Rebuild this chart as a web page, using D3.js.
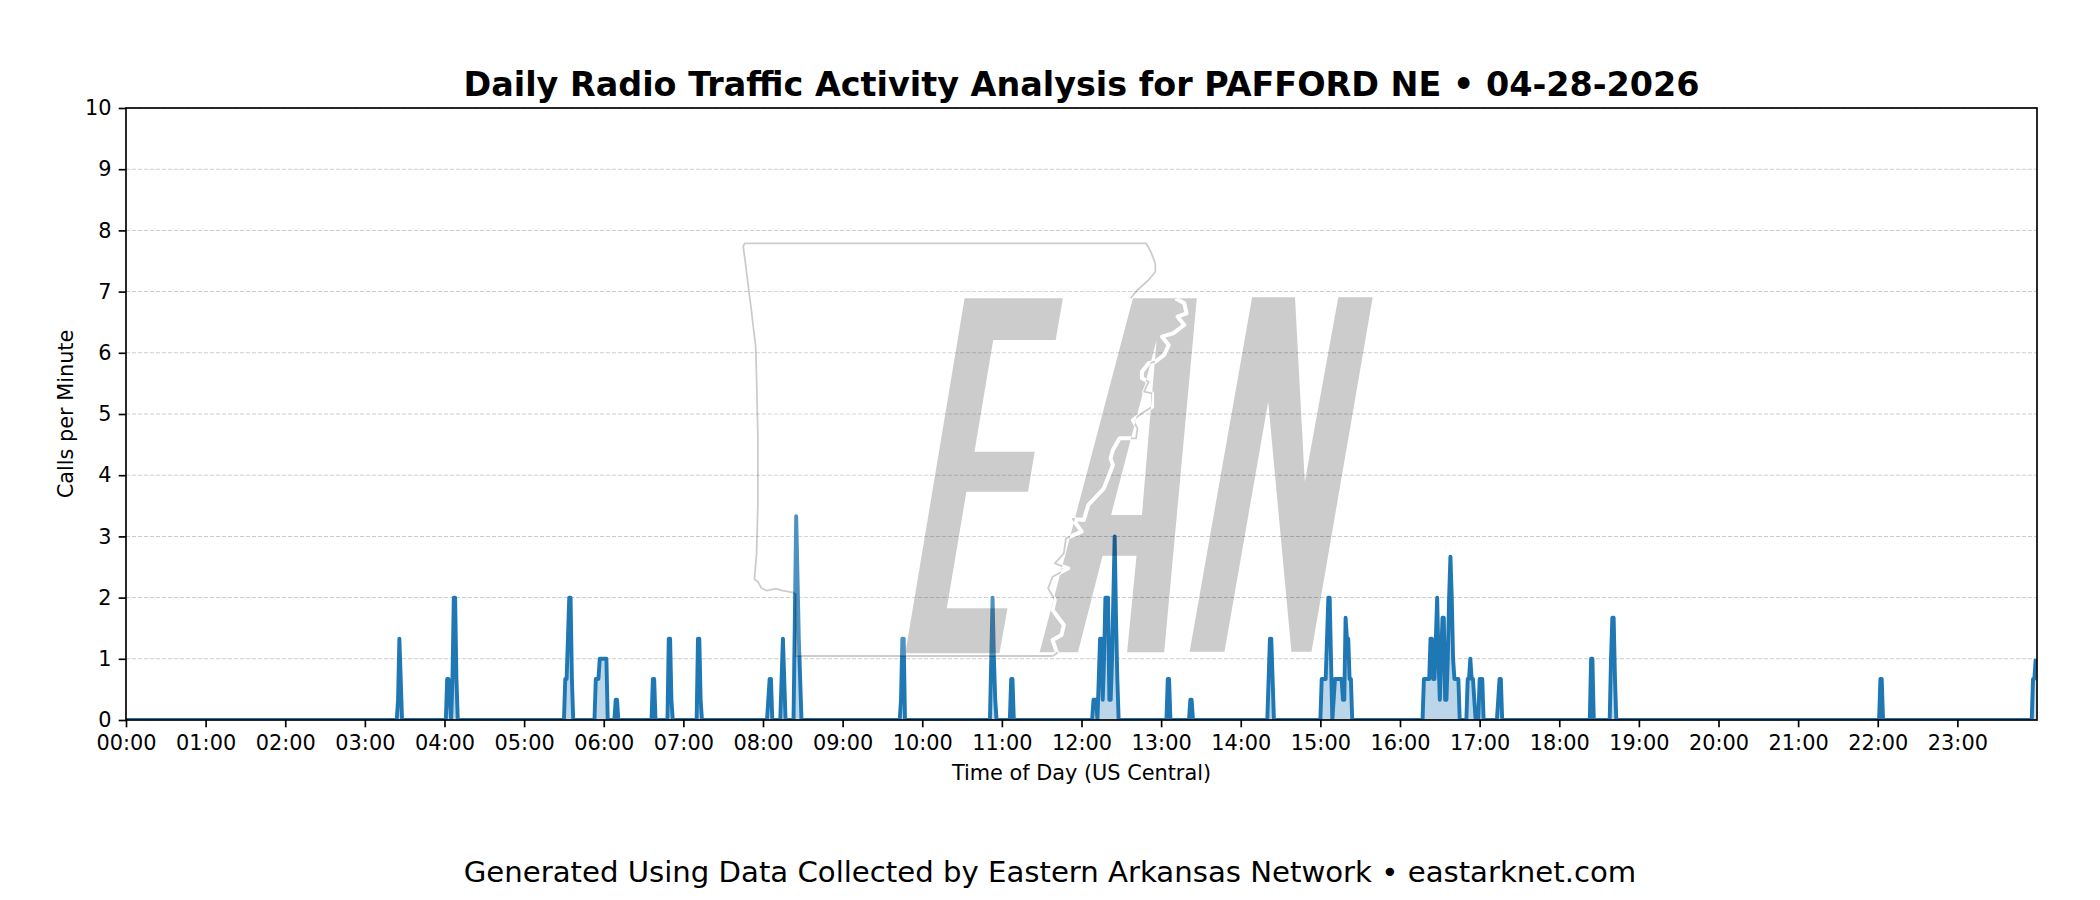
<!DOCTYPE html>
<html>
<head>
<meta charset="utf-8">
<script src="https://cdn.jsdelivr.net/npm/d3@7"></script>
<style>html,body{margin:0;padding:0;background:#fff}svg{display:block}text{font-family:"DejaVu Sans";fill:#000}</style>
</head>
<body>
<svg id="c" width="2100" height="900"></svg>
<script>
const titleText = "Daily Radio Traffic Activity Analysis for PAFFORD NE • 04-28-2026";
const footerText = "Generated Using Data Collected by Eastern Arkansas Network • eastarknet.com";
const xLabel = "Time of Day (US Central)";
const yLabel = "Calls per Minute";
const hourLabels = ["00:00","01:00","02:00","03:00","04:00","05:00","06:00","07:00","08:00","09:00","10:00","11:00","12:00","13:00","14:00","15:00","16:00","17:00","18:00","19:00","20:00","21:00","22:00","23:00"];
const yTicks = [0,1,2,3,4,5,6,7,8,9,10];

// Minute of day with non-zero rate, and the rate at that minute (all other minutes are zero)
const activeMinutes = [
205,206,207, 242,243,244, 246,247,248,249, 331,332,333,334,335,336,
354,355,356,357,358,359,360,361,362, 369,370, 397,398, 409,410,411, 431,432,433,
484,485,486, 494,495,496, 504,505,506,507,508, 584,585,586, 652,653,654,655, 667,668,
729,730,731, 733,734,735,736, 737,738,739,740,741,742,743,744,745,746,747,
785,786, 802,803, 861,862,863,864,
901,902,903,904,905,906,907,908, 910,911,912,913,914,915,916,917,918,919,920,921,922,923,
978,979,980,981,982,983,984,985,986,987,988,989,990,991,992,993,994,995,996,997,998,999,1000,1001,1002,1003,1004,
1011,1012,1013,1014,1015,1016, 1020,1021,1022, 1034,1035,1036,
1104,1105, 1119,1120,1121,1122, 1322,1323, 1437,1438,1439];
const activeRates = [
0.33,1.33,0.67, 0.67,0.67,0.33, 0.67,2,2,0.67, 0.67,0.67,1.33,2,2,0.67,
0.67,0.67,0.67,1,1,1,1,1,1, 0.33,0.33, 0.67,0.67, 1.33,1.33,0.33, 1.33,1.33,0.33,
0.33,0.67,0.67, 0.67,1.33,0.67, 1.67,3.33,2.33,1.33,0.67, 0.33,1.33,1.33, 1,2,1,0.33, 0.67,0.67,
0.33,0.33,0.33, 0.67,1.33,1.33,0.33, 1,2,2,2,0.33,0.33,1,2,3,1.67,0.67,
0.67,0.67, 0.33,0.33, 0.67,1.33,1.33,0.67,
0.67,0.67,0.67,0.67,1.33,2,2,1, 0.33,0.67,0.67,0.67,0.67,0.67,0.67,0.33,0.33,1.67,1.33,1.33,0.67,0.67,
0.67,0.67,0.67,0.67,0.67,1.33,1.33,0.67,0.67,1.33,2,1,0.33,1,1.67,1.67,0.33,0.33,1,2,2.67,2,1,0.67,0.67,0.67,0.67,
0.67,0.67,1,0.67,0.67,0.33, 0.67,0.67,0.67, 0.33,0.67,0.67,
1,1, 1,1.67,1.67,0.67, 0.67,0.67, 0.67,0.67,1];

// Watermark geometry, in its own artwork units
const logoE = [[548,235],[768,235],[752,360],[612,360],[570,695],[705,695],[690,815],[552,815],[508,1165],[644,1165],[626,1300],[415,1300]];
const logoA = [[925,235],[1068,235],[995,1297],[912,1297],[933,1007],[857,1007],[802,1297],[716,1297]];
const logoAHole = [[978,360],[945,885],[876,885]];
const logoN = [[1192,232],[1288,232],[1310,785],[1385,232],[1462,232],[1325,1295],[1280,1295],[1228,545],[1130,1295],[1052,1295]];
const stateNorthWest = [[920,235],[935,210],[960,180],[975,155],[975,130],[965,95],[955,70],[55,70],[52,80],[55,110],[70,270],[80,380],[82,480],[85,650],[85,850],[82,1000],[77,1078],[85,1085],[92,1103],[105,1112],[125,1106],[140,1112],[165,1118],[170,1122],[170,1308],[745,1308]];
const stateRiver = [[1020,235],[1040,250],[1045,280],[1025,290],[1040,315],[1015,340],[990,350],[1005,375],[995,405],[975,425],[960,430],[945,455],[945,475],[960,485],[950,515],[968,520],[968,560],[945,580],[925,600],[935,625],[932,655],[895,655],[880,690],[875,715],[880,735],[870,770],[860,805],[825,855],[815,900],[790,897],[800,915],[810,935],[775,955],[770,1000],[750,1030],[780,1045],[745,1070],[735,1105],[750,1140],[745,1170],[770,1215],[765,1245],[745,1260],[755,1300],[745,1308]];

const W = 2100, H = 900;
const plot = {l:126, r:2037, t:108, b:720};
const svg = d3.select("#c");

const rate = new Array(1440).fill(0);
activeMinutes.forEach((m,i)=>{ rate[m] = activeRates[i]; });
const series = rate.map((v,i)=>({m:i,v}));

const x = d3.scaleLinear().domain([0,1440]).range([plot.l,plot.r]);
const y = d3.scaleLinear().domain([0,10]).range([plot.b,plot.t]);

const defs = svg.append("defs");
defs.append("clipPath").attr("id","plotClip").append("rect")
  .attr("x",plot.l).attr("y",plot.t).attr("width",plot.r-plot.l).attr("height",plot.b-plot.t);

// grid
svg.append("g").selectAll("line").data(yTicks).join("line")
  .attr("x1",plot.l).attr("x2",plot.r).attr("y1",d=>y(d)).attr("y2",d=>y(d))
  .attr("stroke","#000").attr("stroke-opacity",0.2).attr("stroke-width",1.04).attr("stroke-dasharray","4.2 1.8");

// series
const g = svg.append("g").attr("clip-path","url(#plotClip)");
g.append("path").datum(series)
  .attr("d",d3.area().x(d=>x(d.m)).y0(y(0)).y1(d=>y(d.v)))
  .attr("fill","#1f77b4").attr("fill-opacity",0.3);
g.append("path").datum(series)
  .attr("d",d3.line().x(d=>x(d.m)).y(d=>y(d.v)))
  .attr("fill","none").attr("stroke","#1f77b4").attr("stroke-width",3.9).attr("stroke-linejoin","round");

// watermark
const lx = d3.scaleLinear().domain([0,1568]).range([720,1420]);
const ly = d3.scaleLinear().domain([0,1380]).range([220,680]);
const open = pts => "M"+pts.map(p=>lx(p[0]).toFixed(1)+","+ly(p[1]).toFixed(1)).join("L");
const poly = pts => open(pts)+"Z";
const lettersD = poly(logoE)+poly(logoA)+poly(logoAHole)+poly(logoN);
defs.append("clipPath").attr("id","letterClip").append("path").attr("d",lettersD).attr("clip-rule","evenodd");
const logo = svg.append("g");
logo.append("path").attr("d",poly(stateNorthWest.concat(stateRiver.slice().reverse()))).attr("fill","#fff").attr("fill-opacity",0.2);
logo.append("path").attr("d",open(stateNorthWest)+open(stateRiver)).attr("fill","none")
  .attr("stroke","#000").attr("stroke-opacity",0.2).attr("stroke-width",1.8).attr("stroke-linejoin","round");
logo.append("path").attr("d",lettersD).attr("fill","#000").attr("fill-opacity",0.2).attr("fill-rule","evenodd");
logo.append("path").attr("d",open(stateRiver)).attr("fill","none")
  .attr("stroke","#fff").attr("stroke-width",4).attr("stroke-linejoin","round").attr("clip-path","url(#letterClip)");

// axes
const xAxis = d3.axisBottom(x).tickValues(hourLabels.map((_,i)=>i*60)).tickFormat((d,i)=>hourLabels[i]).tickSize(7.3).tickPadding(8);
const yAxis = d3.axisLeft(y).tickValues(yTicks).tickFormat(d3.format("d")).tickSize(7.3).tickPadding(7.3);
const gx = svg.append("g").attr("transform",`translate(0,${plot.b})`).call(xAxis);
const gy = svg.append("g").attr("transform",`translate(${plot.l},0)`).call(yAxis);
[gx,gy].forEach(a=>{
  a.select(".domain").remove();
  a.selectAll(".tick line").attr("stroke","#000").attr("stroke-width",1.67);
  a.selectAll("text").attr("font-size",20.83).attr("font-family","DejaVu Sans").attr("fill","#000");
});
svg.append("rect").attr("x",plot.l).attr("y",plot.t).attr("width",plot.r-plot.l).attr("height",plot.b-plot.t)
  .attr("fill","none").attr("stroke","#000").attr("stroke-width",1.67);

// texts
svg.append("text").attr("x",1081.5).attr("y",84).attr("dy","0.36em").attr("text-anchor","middle")
  .attr("font-size",33.4).attr("font-weight","bold").text(titleText);
svg.append("text").attr("x",1081.5).attr("y",772.5).attr("dy","0.36em").attr("text-anchor","middle")
  .attr("font-size",20.83).text(xLabel);
svg.append("text").attr("transform","translate(65.5,414) rotate(-90)").attr("dy","0.36em").attr("text-anchor","middle")
  .attr("font-size",20.83).text(yLabel);
svg.append("text").attr("x",1050).attr("y",871).attr("dy","0.36em").attr("text-anchor","middle")
  .attr("font-size",29.17).text(footerText);
</script>
</body>
</html>
